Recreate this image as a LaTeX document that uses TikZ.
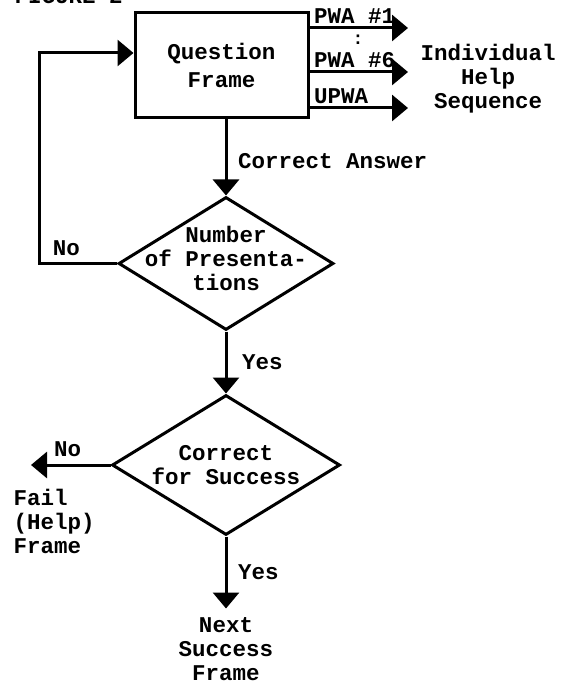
\documentclass[tikz,border=0pt]{standalone}
\usepackage{fontspec}
\setmainfont{Liberation Mono}
\usetikzlibrary{arrows.meta, positioning, shapes.geometric}

\begin{document}
\begin{tikzpicture}[
        x=0.5pt, y=-0.5pt,
        line width=1.5pt,
        every node/.style={font=\bfseries\fontsize{11.25}{12}\selectfont, align=center},
        frame/.style={draw, rectangle, minimum width=86.5pt, minimum height=52.5pt},
        decision/.style={diamond, draw, inner sep=0pt},
        flow/.style={draw, -{Triangle[length=8pt, width=13pt]}},
        tag/.style={inner sep=0pt}
        ]
        \fill[white] (0,0) rectangle (562,683);
        \useasboundingbox (0,0) rectangle (562,683);

        \node[tag, anchor=base west] (title) at (13,4) {FIGURE 2};

        \node[frame] (question) at (221.5,65.5) {Question\\[2pt]Frame};
        \node[decision, minimum width=107.5pt, minimum height=66.5pt] (count) at (226,263.5) {};
        \node[yshift=2.75pt] (countlabel) at (count) {Number\\of Presenta-\\tions};
        \node[decision, minimum width=114pt, minimum height=70pt, below=31pt of count] (success) {};
        \node (successlabel) at (success) {Correct\\for Success};
        \node[below=36pt of success, inner sep=3.75pt] (next) {Next\\Success\\Frame};
        \node[tag, align=left, anchor=west] (fail) at (12,521) {Fail\\(Help)\\Frame};
        \node (help) at (488,79) {Individual\\Help\\Sequence};

        % wrong answers
        \coordinate (pwa1) at (408,28);
        \coordinate (pwa6) at (408,72);
        \coordinate (upwa) at (408,108);
        \draw[flow] (question.east |- pwa1) -- node[pos=0, above right, inner sep=1.5pt] {PWA \#1} (pwa1);
        \draw[flow] (question.east |- pwa6) -- node[pos=0, above right, inner sep=1.5pt] {PWA \#6} (pwa6);
        \draw[flow] (question.east |- upwa) -- node[pos=0, above right, inner sep=1.5pt] {UPWA} (upwa);
        \node[tag, font=\bfseries\fontsize{9}{9}\selectfont] (more) at (358,40) {:};

        % correct answer
        \coordinate (back) at (39,53);
        \coordinate (failend) at (31,462);
        \draw[flow] (question.south -| count.north) -- node[right=2pt, yshift=-2pt] {Correct Answer} (count.north);
        \draw[flow] (count.west) -- node[above, pos=0.65] {No} (count.west -| back) -- (back) -- (back -| question.west);
        \draw[flow] (count.south) -- node[right=4pt] {Yes} (success.north);
        \draw[flow] (success.west) -- node[above, pos=0.54] {No} (success.west -| failend);
        \draw[flow] (success.south) -- node[right=2pt] {Yes} (next.north);
    \end{tikzpicture}
\end{document}
